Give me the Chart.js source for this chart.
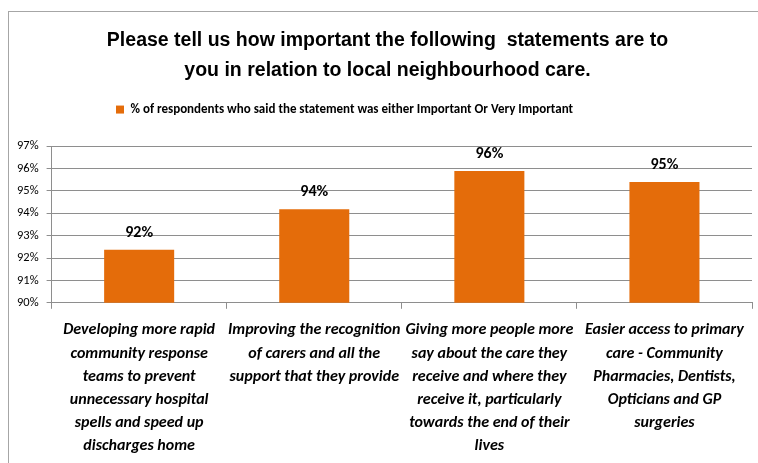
<!DOCTYPE html>
<html>
<head>
<meta charset="utf-8">
<script src="https://cdn.jsdelivr.net/npm/chart.js@4"></script>
<style>
  html, body { margin: 0; padding: 0; background: #fff; }
  #wrap { width: 758px; height: 463px; }
</style>
</head>
<body>
<div id="wrap"><canvas id="careChart" width="758" height="463"></canvas></div>
<script>
const categories = [
  ["Developing more rapid", "community response", "teams to prevent", "unnecessary hospital", "spells and speed up", "discharges home"],
  ["Improving the recognition", "of carers and all the", "support that they provide"],
  ["Giving more people more", "say about the care they", "receive and where they", "receive it, particularly", "towards the end of their", "lives"],
  ["Easier access to primary", "care - Community", "Pharmacies, Dentists,", "Opticians and GP", "surgeries"]
];
const importantPct = [92.37, 94.18, 95.89, 95.40];
const seriesLabel = "% of respondents who said the statement was either Important Or Very Important";
const titleLines = ["Please tell us how important the following  statements are to", "you in relation to local neighbourhood care."];

const BAR = "#E46C0A";
const GRID = "#8e8e8e";
const bodyFont = "Carlito, Lato, 'Liberation Sans', sans-serif";

// thin frame round the chart
const frame = {
  id: "frame",
  beforeDraw(chart) {
    const c = chart.ctx;
    c.save();
    c.strokeStyle = "#a6a6a6";
    c.lineWidth = 1;
    c.strokeRect(8.5, 11.5, 900, 600);
    c.restore();
  }
};

// value labels above each bar
const barValues = {
  id: "barValues",
  afterDatasetsDraw(chart) {
    const c = chart.ctx;
    const meta = chart.getDatasetMeta(0);
    c.save();
    c.font = "bold 16px " + bodyFont;
    c.fillStyle = "#000";
    c.textAlign = "center";
    c.textBaseline = "bottom";
    meta.data.forEach((bar, i) => {
      c.fillText(Math.round(importantPct[i]) + "%", bar.x, bar.y - 9);
    });
    c.restore();
  }
};

// extra room under the legend, and nudge title / legend sideways
const headerLayout = {
  id: "headerLayout",
  beforeInit(chart) {
    const fit = chart.legend.fit;
    chart.legend.fit = function () {
      fit.bind(chart.legend)();
      this.height += 20;
    };
  },
  afterLayout(chart) {
    chart.legend.left -= 36;
    chart.legend.right -= 36;
    chart.titleBlock.left += 7;
    chart.titleBlock.right += 7;
  }
};

new Chart(document.getElementById("careChart"), {
  type: "bar",
  data: {
    labels: categories,
    datasets: [{
      label: seriesLabel,
      data: importantPct,
      backgroundColor: BAR,
      borderWidth: 0,
      barPercentage: 0.4,
      categoryPercentage: 1
    }]
  },
  options: {
    responsive: false,
    animation: false,
    layout: { padding: { top: 20, right: 6, left: 9, bottom: 0 } },
    plugins: {
      title: {
        display: true,
        text: titleLines,
        color: "#000",
        font: { family: "'Liberation Sans', Arial, sans-serif", size: 19.5, weight: "bold", lineHeight: 1.54 },
        padding: { top: 6, bottom: 9 }
      },
      legend: {
        display: true,
        labels: {
          color: "#000",
          boxWidth: 8,
          boxHeight: 8,
          padding: 8,
          font: { family: bodyFont, size: 13, weight: "bold" }
        }
      },
      tooltip: { enabled: false }
    },
    scales: {
      x: {
        afterFit(scale) { scale.height -= 5; },
        grid: { offset: true, drawOnChartArea: false, color: GRID, tickLength: 6 },
        border: { color: GRID },
        ticks: {
          color: "#000",
          padding: 10,
          maxRotation: 0,
          autoSkip: false,
          font: { family: bodyFont, size: 16, weight: "bold", style: "italic", lineHeight: 1.45 }
        }
      },
      y: {
        min: 90,
        max: 97,
        grid: { color: GRID, tickLength: 5 },
        border: { color: GRID },
        ticks: {
          stepSize: 1,
          color: "#000",
          padding: 8,
          font: { family: bodyFont, size: 12.5 },
          callback: v => v + "%"
        }
      }
    }
  },
  plugins: [frame, barValues, headerLayout]
});
</script>
</body>
</html>
